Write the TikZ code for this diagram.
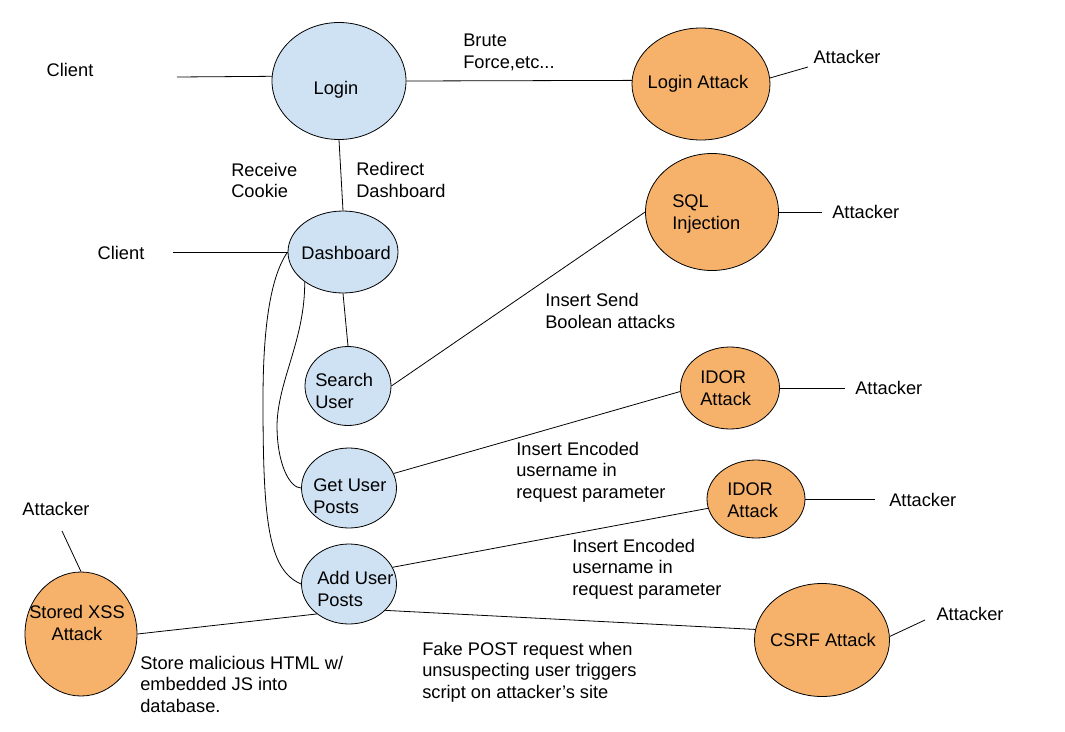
\documentclass[tikz,border=0pt]{standalone}
\usepackage{fontspec}
\setmainfont{Liberation Sans}
\usetikzlibrary{shapes.geometric}
\definecolor{nodeblue}{HTML}{CFE2F3}
\definecolor{nodeorange}{HTML}{F6B26B}
\begin{document}
\begin{tikzpicture}[x=0.75pt,y=-0.75pt,
  ell/.style={draw=black, line width=0.6pt, ellipse, inner sep=0pt},
  esize/.style 2 args={minimum width=#1*0.75pt, minimum height=#2*0.75pt},
  blueell/.style={ell, fill=nodeblue},
  orangeell/.style={ell, fill=nodeorange},
  txt/.style={inner sep=0pt, font=\fontsize{13.7}{16.1}\selectfont, align=left},
  conn/.style={line width=0.6pt}]
\useasboundingbox (0,0) rectangle (1065,732);
\fill[white] (0,0) rectangle (1065,732);

% ellipses
\node[blueell, esize={134}{117}] (login) at (339,81) {};
\node[orangeell, esize={138}{112}] (la) at (701,84) {};
\node[blueell, esize={110}{82}] (dash) at (343,252) {};
\node[blueell, esize={86}{79}] (search) at (348,386) {};
\node[blueell, esize={95}{80}] (get) at (349,488) {};
\node[blueell, esize={95}{80}] (add) at (349,584) {};
\node[orangeell, esize={133}{117}] (sql) at (712,212) {};
\node[orangeell, esize={99}{82}] (idor1) at (730,388) {};
\node[orangeell, esize={98}{78}] (idor2) at (756,499) {};
\node[orangeell, esize={135}{113}] (csrf) at (822,640) {};
\node[orangeell, esize={112}{124}] (xss) at (81,634) {};

% texts in ellipses
\node[txt] (loginT) at (336,90) {Login};
\node[txt] (laT) at (698,84) {Login Attack};
\node[txt] (dashT) at (346,253) {Dashboard};
\node[txt, anchor=west] (searchT) at (315,391) {Search\\User};
\node[txt, anchor=west] (getT) at (313,496) {Get User\\Posts};
\node[txt, anchor=west] (addT) at (317,589) {Add User\\Posts};
\node[txt, anchor=west] (sqlT) at (672,214) {SQL\\Injection};
\node[txt, anchor=west] (idor1T) at (700,388) {IDOR\\Attack};
\node[txt, anchor=west] (idor2T) at (727,500) {IDOR\\Attack};
\node[txt] (csrfT) at (823,640) {CSRF Attack};
\node[txt, align=center] (xssT) at (77,623) {Stored XSS\\Attack};

% actor labels
\node[txt] (client1) at (70,70) {Client};
\node[txt] (client2) at (121,253) {Client};
\node[txt] (att1) at (847,57) {Attacker};
\node[txt, anchor=west] (att2) at (832,212) {Attacker};
\node[txt, anchor=west] (att3) at (855,388) {Attacker};
\node[txt, anchor=west] (att4) at (889,500) {Attacker};
\node[txt] (att5) at (970,614) {Attacker};
\node[txt] (att6) at (56,509) {Attacker};

% edge labels
\node[txt, anchor=west] (brute) at (463,52.5) {Brute\\Force,etc...};
\node[txt, anchor=west] (cookie) at (231,180.5) {Receive\\Cookie};
\node[txt, anchor=west] (redir) at (356,180) {Redirect\\Dashboard};
\node[txt, anchor=west] (bool) at (545,311) {Insert Send\\Boolean attacks};
\node[txt, anchor=west] (enc1) at (516,472) {Insert Encoded\\username in\\request parameter};
\node[txt, anchor=west] (enc2) at (572,569) {Insert Encoded\\username in\\request parameter};
\node[txt, anchor=west] (store) at (140,684) {Store malicious HTML w/\\embedded JS into\\database.};
\node[txt, anchor=west] (fake) at (422,672) {Fake POST request when\\unsuspecting user triggers\\script on attacker’s site};

% free ends
\coordinate (c1) at (177,77);
\coordinate (c2) at (173,252);
\coordinate (a1) at (808,67);
\coordinate (a2) at (822,212);
\coordinate (a3) at (845,388);
\coordinate (a4) at (875,499);
\coordinate (a5) at (925,620);
\coordinate (a6) at (62,531);

% connectors
\draw[conn] (c1) -- (login.176);
\draw[conn] (login.east) -- (la.177);
\draw[conn] (la.5) -- (a1);
\draw[conn] (login.south) -- (dash.north);
\draw[conn] (c2) -- (dash.west);
\draw[conn] (dash.south) -- (search.north);
\draw[conn] (search.east) -- (sql.west);
\draw[conn] (sql.east) -- (a2);
\draw[conn] (get.18) -- (idor1.184);
\draw[conn] (idor1.east) -- (a3);
\draw[conn] (add.21) -- (idor2.191);
\draw[conn] (idor2.east) -- (a4);
\draw[conn] (add.324) -- (csrf.171);
\draw[conn] (csrf.3) -- (a5);
\draw[conn] (xss.east) -- (add.223);
\draw[conn] (xss.north) -- (a6);
\draw[conn] (dash.218) .. controls (305,340) and (278,380) .. (277,425)
  .. controls (277,465) and (290,488) .. (get.west);
\draw[conn] (dash.west) .. controls (268,280) and (263,340) .. (263,400)
  .. controls (263,520) and (268,570) .. (add.west);
\end{tikzpicture}
\end{document}
